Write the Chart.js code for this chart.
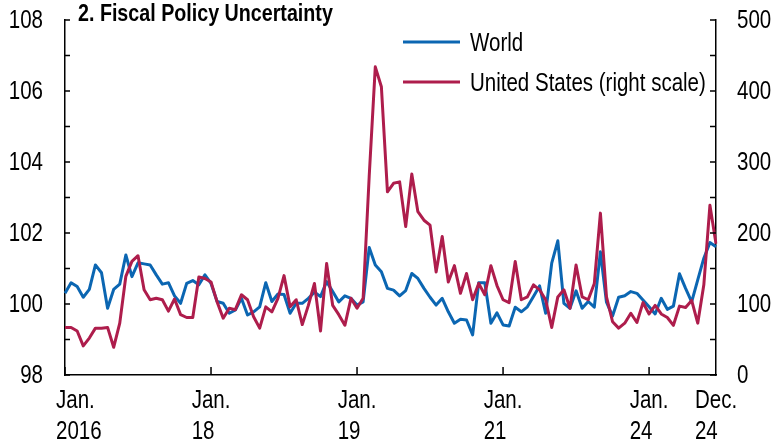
<!DOCTYPE html>
<html lang="en">
<head>
  <meta charset="UTF-8" />
  <title>Fiscal Policy Uncertainty</title>
  <script src="https://cdn.jsdelivr.net/npm/chart.js"></script>
  <style>
    body { margin: 0; background: #fff; }
    #chart { display: block; }
  </style>
</head>
<body>
  <canvas id="chart" width="774" height="444"></canvas>
  <script>
    const FONT = '"Liberation Sans", Arial, sans-serif';
    const SQUEEZE = 0.82; // Arial Narrow look

    // monthly, Jan. 2016 .. Dec. 2024
    const months = [];
    for (let y = 2016; y <= 2024; y++) {
      for (let m = 1; m <= 12; m++) months.push(y + '-' + m);
    }

    // x-axis labels as printed on the chart
    const tickIdx = [0, 24, 48, 72, 96, 107];
    const tickText = [['Jan.', '2016'], ['Jan.', '18'], ['Jan.', '19'], ['Jan.', '21'], ['Jan.', '24'], ['Dec.', '24']];
    const tickMarks = [0, 24, 48, 72, 96];

    // left scale
    const world = [
      100.30, 100.60, 100.49, 100.19, 100.41, 101.10, 100.88, 99.88, 100.41, 100.56, 101.38, 100.77,
      101.16, 101.13, 101.10, 100.82, 100.56, 100.60, 100.23, 100.02, 100.58, 100.66, 100.54, 100.82,
      100.58, 100.07, 100.02, 99.74, 99.83, 100.16, 99.69, 99.78, 99.92, 100.60, 100.07, 100.28,
      100.27, 99.74, 100.02, 100.02, 100.16, 100.33, 100.21, 100.63, 100.35, 100.06, 100.23, 100.16,
      99.97, 100.06, 101.59, 101.10, 100.91, 100.44, 100.39, 100.23, 100.38, 100.86, 100.72, 100.44,
      100.19, 99.97, 100.16, 99.78, 99.46, 99.57, 99.55, 99.13, 100.60, 100.60, 99.46, 99.75,
      99.41, 99.38, 99.91, 99.78, 99.92, 100.21, 100.51, 99.74, 101.15, 101.78, 100.02, 99.88,
      100.37, 99.88, 100.07, 99.91, 101.47, 100.05, 99.66, 100.19, 100.23, 100.35, 100.30, 100.11,
      99.92, 99.72, 100.16, 99.85, 99.94, 100.85, 100.44, 100.06, 100.68, 101.29, 101.73, 101.61
    ];

    // right scale
    const unitedStates = [
      67, 67, 62, 41, 52, 66, 66, 67, 39, 73, 139, 160,
      168, 120, 106, 108, 106, 90, 107, 85, 81, 81, 138, 136,
      131, 103, 80, 94, 92, 113, 106, 82, 66, 96, 89, 108,
      140, 96, 106, 71, 98, 129, 62, 157, 98, 85, 70, 108,
      94, 108, 280, 434, 406, 258, 270, 272, 209, 283, 230, 218,
      211, 145, 195, 131, 154, 115, 143, 106, 129, 113, 154, 126,
      106, 102, 160, 106, 110, 127, 120, 106, 67, 110, 120, 94,
      155, 110, 106, 129, 228, 110, 75, 66, 73, 87, 74, 102,
      86, 98, 86, 81, 70, 97, 95, 105, 73, 127, 239, 185
    ];

    const BLUE = '#0b66b2';
    const RED = '#ae1d4c';

    function narrow(ctx, text, x, y, align, font) {
      ctx.save();
      ctx.font = font;
      ctx.textAlign = align;
      ctx.textBaseline = 'alphabetic';
      ctx.translate(x, y);
      ctx.scale(SQUEEZE, 1);
      ctx.fillText(text, 0, 0);
      ctx.restore();
    }

    const frame = {
      id: 'frame',
      afterDraw(chart) {
        const ctx = chart.ctx;
        const x = chart.scales.x, yl = chart.scales.y, yr = chart.scales.y1;
        const f = '25px ' + FONT;
        ctx.save();
        ctx.strokeStyle = '#000';
        ctx.fillStyle = '#000';
        ctx.lineWidth = 1.5;

        // inward tick marks
        ctx.beginPath();
        yl.ticks.forEach(t => {
          const p = yl.getPixelForValue(t.value);
          ctx.moveTo(x.left, p); ctx.lineTo(x.left + 5, p);
        });
        yr.ticks.forEach(t => {
          const p = yr.getPixelForValue(t.value);
          ctx.moveTo(x.right, p); ctx.lineTo(x.right - 6, p);
        });
        tickMarks.forEach(i => {
          const p = x.getPixelForValue(i);
          ctx.moveTo(p, yl.bottom); ctx.lineTo(p, yl.bottom - 8);
        });
        ctx.stroke();

        // axis labels
        yl.ticks.forEach(t => {
          if (t.value % 2 !== 0) return;
          narrow(ctx, String(t.value), 43, yl.getPixelForValue(t.value) + 8, 'right', f);
        });
        yr.ticks.forEach(t => {
          if (t.value % 100 !== 0) return;
          narrow(ctx, String(t.value), 737, yr.getPixelForValue(t.value) + 8, 'left', f);
        });
        ctx.font = f;
        tickIdx.forEach((i, k) => {
          const p = x.getPixelForValue(i);
          const w = ctx.measureText(tickText[k][0]).width * SQUEEZE;
          const left = Math.max(56, p - w / 2);
          narrow(ctx, tickText[k][0], left, yl.bottom + 33, 'left', f);
          narrow(ctx, tickText[k][1], left, yl.bottom + 64, 'left', f);
        });

        // title
        narrow(ctx, '2. Fiscal Policy Uncertainty', 78, 21, 'left', 'bold 24px ' + FONT);

        // legend
        [['World', BLUE, 42], ['United States (right scale)', RED, 82]].forEach(([label, color, y]) => {
          ctx.strokeStyle = color;
          ctx.lineWidth = 3;
          ctx.beginPath();
          ctx.moveTo(403, y); ctx.lineTo(460, y);
          ctx.stroke();
          narrow(ctx, label, 470, y + 9, 'left', f);
        });
        ctx.restore();
      }
    };

    new Chart(document.getElementById('chart'), {
      type: 'line',
      data: {
        labels: months,
        datasets: [
          { label: 'World', data: world, yAxisID: 'y', borderColor: BLUE, borderWidth: 3, order: 1 },
          { label: 'United States (right scale)', data: unitedStates, yAxisID: 'y1', borderColor: RED, borderWidth: 3, order: 0 }
        ]
      },
      options: {
        responsive: false,
        animation: false,
        events: [],
        layout: { padding: { top: 20, left: 0, right: 0, bottom: 0 } },
        elements: { point: { radius: 0 }, line: { tension: 0, borderJoinStyle: 'round' } },
        plugins: { legend: { display: false }, tooltip: { enabled: false } },
        scales: {
          x: {
            type: 'category',
            offset: false,
            grid: { display: false, drawTicks: false },
            border: { display: true, color: '#000', width: 1.5 },
            afterFit: s => { s.height = 69; },
            ticks: { display: false, autoSkip: false, maxRotation: 0 }
          },
          y: {
            position: 'left',
            min: 98, max: 108,
            grid: { display: false, drawTicks: false },
            border: { display: true, color: '#000', width: 1.5 },
            afterFit: s => { s.width = 65; },
            ticks: { display: false, stepSize: 1 }
          },
          y1: {
            position: 'right',
            min: 0, max: 500,
            grid: { display: false, drawTicks: false },
            border: { display: true, color: '#000', width: 1.5 },
            afterFit: s => { s.width = 58; },
            ticks: { display: false, stepSize: 50 }
          }
        }
      },
      plugins: [frame]
    });
  </script>
</body>
</html>
